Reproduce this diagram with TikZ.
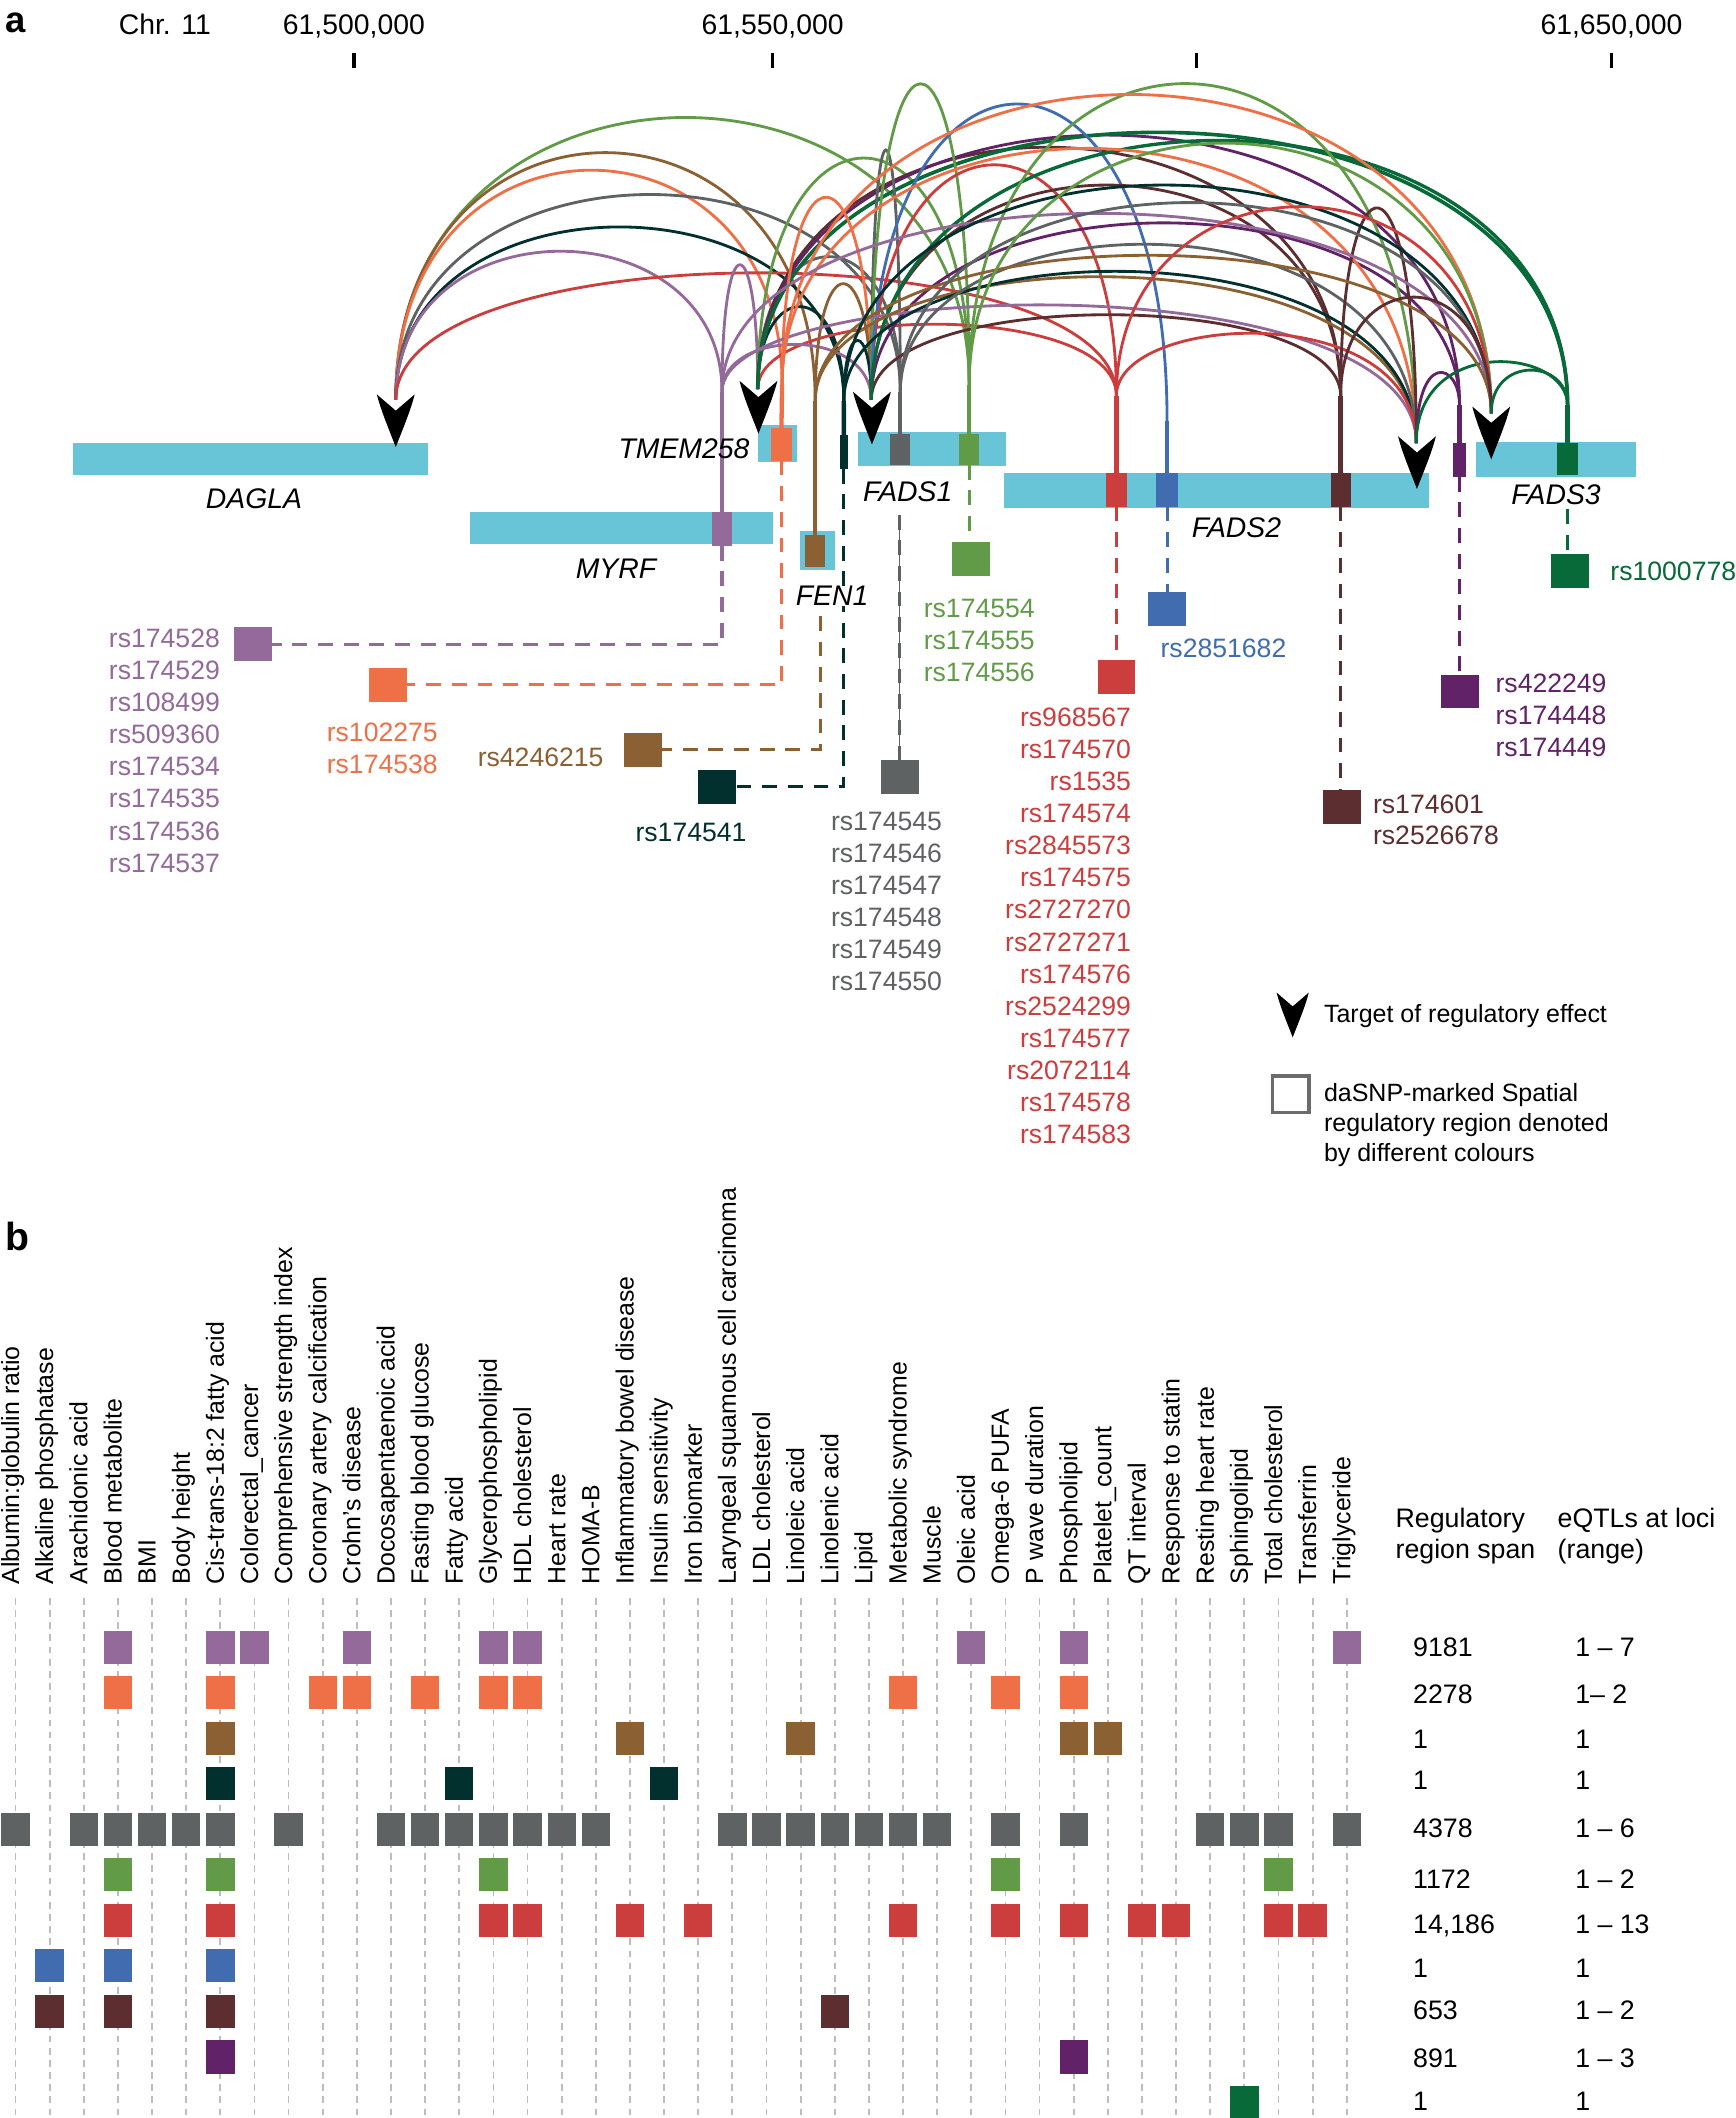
\documentclass[tikz,border=0pt]{standalone}
\usepackage{fontspec}
\setmainfont{Liberation Sans}
\usetikzlibrary{calc}
\definecolor{cgene}{HTML}{67C5D7}
\definecolor{cP}{HTML}{946A9A}
\definecolor{cO}{HTML}{EF7047}
\definecolor{cB}{HTML}{8B6133}
\definecolor{cT}{HTML}{02302F}
\definecolor{cG}{HTML}{5F6263}
\definecolor{cGr}{HTML}{629B48}
\definecolor{cR}{HTML}{CC3E3E}
\definecolor{cBl}{HTML}{416DB0}
\definecolor{cDB}{HTML}{5C2E30}
\definecolor{cDP}{HTML}{622268}
\definecolor{cDG}{HTML}{076A38}
\definecolor{ccol}{HTML}{BDBDBD}
\definecolor{cbox}{HTML}{6B6B6B}
\newcommand\boxnode[6]{\node[#2, minimum width={#5pt-#3pt}, minimum height={#6pt-#4pt}] (#1) at ({(#3+#5)/2},{(#4+#6)/2}) {};}
\newcommand\rarc[5][]{%
  \pgfmathsetmacro\kA{4/3*(\csname ys#3\endcsname-#5)}%
  \pgfmathsetmacro\kB{4/3*(\csname yt#4\endcsname-#5)}%
  \draw[arcline,#2,#1] (s#3) .. controls +(0,-\kA) and +(0,-\kB) .. (t#4);}
\newcommand\tarrow[2][1]{\fill[black, shift={(#2)}, scale=#1] (0,0) .. controls (-5,-13) and (-11,-27) .. (-14,-39) -- (0,-27) -- (14,-39) .. controls (11,-27) and (5,-13) .. (0,0) -- cycle;}
\newcommand\brow[4]{\foreach \c in {#3} \node[bsq, fill=#1] (b#4-\c) at ({11.5+\c*25.27}, #2) {};}
\def\ysP{290}\def\ysO{285}\def\ysB{297}\def\ysT{297}\def\ysG{290}\def\ysGr{285}
\def\ysR{293}\def\ysBl{312}\def\ysDB{293}\def\ysDP{300}\def\ysDG{300}
\def\ytDa{296}\def\ytTm{288}\def\ytFa{296}\def\ytFb{328}\def\ytFc{306}
\begin{document}
\begin{tikzpicture}[x=1pt,y=-1pt,
  gene/.style={fill=cgene, draw=none, inner sep=0, outer sep=0},
  mk/.style={draw=none, inner sep=0, outer sep=0},
  snp/.style={draw=none, inner sep=0, outer sep=0, minimum width=28pt, minimum height=25pt},
  bsq/.style={draw=none, inner sep=0, outer sep=0, minimum width=21pt, minimum height=24.5pt},
  arcline/.style={line width=2.1pt},
  stemln/.style={line width=3.2pt},
  dl/.style={line width=2.3pt, dash pattern=on 11pt off 8pt},
  tickln/.style={line width=2.4pt, black},
  cdash/.style={line width=1.3pt, ccol, dash pattern=on 5pt off 4pt},
  lab/.style={font=\fontsize{19.7}{23.8}\selectfont, inner sep=0},
  glab/.style={font=\fontsize{21}{24}\selectfont\itshape, inner sep=0},
  axl/.style={font=\fontsize{21}{24}\selectfont, inner sep=0, anchor=base},
  leg/.style={font=\fontsize{18.5}{22}\selectfont, inner sep=0, anchor=base west},
  clab/.style={font=\fontsize{18.4}{22}\selectfont, inner sep=0, rotate=90, anchor=mid west},
  tlab/.style={font=\fontsize{19.8}{23}\selectfont, inner sep=0, anchor=base west}]
\useasboundingbox (0,0) rectangle (1285,1568);
\fill[white] (0,0) rectangle (1285,1568);

% ---------- panel a ----------
\node[font=\fontsize{27}{30}\selectfont\bfseries, anchor=base west, inner sep=0] (pa) at (4,24) {a};
\node[axl] (chr) at (122,25.6) {Chr. 11};
\node[axl] (p1) at (262,25.6) {61,500,000};
\node[axl] (p2) at (572,25.6) {61,550,000};
\node[axl] (p4) at (1193,25.6) {61,650,000};
\foreach \x in {262,572,886,1193} \draw[tickln] (\x,39) -- (\x,50);

% genes
\boxnode{DAGLA}{gene}{54}{328}{317}{352}
\boxnode{MYRF}{gene}{348}{379}{572}{403}
\boxnode{TMEM}{gene}{561}{315}{590}{342}
\boxnode{FEN}{gene}{592}{393}{618}{422}
\boxnode{FADSa}{gene}{635}{320}{745}{345}
\boxnode{FADSb}{gene}{743}{350}{1058}{376}
\boxnode{FADSc}{gene}{1093}{327}{1211}{353}

% SNP squares
\node[snp, fill=cP] (sqP) at (187,477) {};
\node[snp, fill=cO] (sqO) at (287,507) {};
\node[snp, fill=cB] (sqB) at (476,555) {};
\node[snp, fill=cT] (sqT) at (530.6,582.5) {};
\node[snp, fill=cG] (sqG) at (666,575) {};
\node[snp, fill=cGr] (sqGr) at (719,414) {};
\node[snp, fill=cR] (sqR) at (826.5,501) {};
\node[snp, fill=cBl] (sqBl) at (864,450.6) {};
\node[snp, fill=cDB] (sqDB) at (993.5,597.6) {};
\node[snp, fill=cDP] (sqDP) at (1081,512) {};
\node[snp, fill=cDG] (sqDG) at (1162,422.6) {};

% markers
\boxnode{mP}{mk,fill=cP}{527}{379}{542}{404}
\boxnode{mO}{mk,fill=cO}{571}{317}{586}{341}
\boxnode{mB}{mk,fill=cB}{596}{396}{611}{420}
\boxnode{mT}{mk,fill=cT}{621.5}{322}{628}{347}
\boxnode{mG}{mk,fill=cG}{659}{321}{674}{344}
\boxnode{mGr}{mk,fill=cGr}{710}{321}{725}{344}
\boxnode{mR}{mk,fill=cR}{819}{350}{834}{375}
\boxnode{mBl}{mk,fill=cBl}{856}{350}{872}{375}
\boxnode{mDB}{mk,fill=cDB}{985}{350}{1000}{375}
\boxnode{mDP}{mk,fill=cDP}{1076}{328}{1085}{353}
\boxnode{mDG}{mk,fill=cDG}{1153}{328}{1168}{352}

% dashed connectors
\draw[dl, cP] (mP.south) |- (sqP.east);
\draw[dl, cO] (mO.south) |- (sqO.east);
\coordinate (cBtop) at (607.5,456);
\draw[dl, cB] (cBtop) |- (sqB.east);
\draw[dl, cT] (mT.south) |- (sqT.east);
\coordinate (cGtop) at (666,381);
\draw[line width=0.6pt, cG] (cGtop) -- (sqG.north);
\draw[dl, cG] (cGtop) -- (sqG.north);
\draw[dl, cGr] (mGr.south) -- (mGr.south |- sqGr.north);
\draw[dl, cR] (mR.south) -- (mR.south |- sqR.north);
\draw[dl, cBl] (mBl.south) -- (mBl.south |- sqBl.north);
\draw[dl, cDB] (mDB.south) -- (mDB.south |- sqDB.north);
\draw[dl, cDP] (mDP.south) -- (mDP.south |- sqDP.north);
\coordinate (cDGtop) at (1160.5,377);
\draw[dl, cDG] (cDGtop) -- (cDGtop |- sqDG.north);

% arc end points
\coordinate (sP) at (534.5,\ysP);
\coordinate (sO) at (579,\ysO);
\coordinate (sB) at (603.5,\ysB);
\coordinate (sT) at (624.7,\ysT);
\coordinate (sG) at (666.5,\ysG);
\coordinate (sGr) at (717.5,\ysGr);
\coordinate (sR) at (826.5,\ysR);
\coordinate (sBl) at (864,\ysBl);
\coordinate (sDB) at (992.5,\ysDB);
\coordinate (sDP) at (1080.5,\ysDP);
\coordinate (sDG) at (1160.5,\ysDG);
\coordinate (tDa) at (293,\ytDa);
\coordinate (tTm) at (561,\ytTm);
\coordinate (tFa) at (645,\ytFa);
\coordinate (tFb) at (1048.5,\ytFb);
\coordinate (tFc) at (1104,\ytFc);

% arcs to DAGLA
\rarc{cGr}{Gr}{Da}{87}
\rarc{cB}{B}{Da}{113}
\rarc{cO}{O}{Da}{126}
\rarc{cG}{G}{Da}{144}
\rarc{cT}{T}{Da}{168}
\rarc{cP}{P}{Da}{186}
\rarc{cR}{R}{Da}{202}
% arcs to TMEM258
\rarc{cP}{P}{Tm}{196}
\rarc{cGr}{Gr}{Tm}{117}
\rarc{cT}{T}{Tm}{227}
\rarc{cG}{G}{Tm}{190}
\rarc{cR}{R}{Tm}{240}
\rarc{cDB}{DB}{Tm}{109}
\rarc{cDP}{DP}{Tm}{100}
\rarc[line width=2.7pt]{cDG}{DG}{Tm}{98}
% arcs to FADS1
\rarc{cP}{P}{Fa}{255}
\rarc{cO}{O}{Fa}{146}
\rarc{cB}{B}{Fa}{210}
\rarc{cT}{T}{Fa}{252}
\rarc{cG}{G}{Fa}{111}
\rarc{cGr}{Gr}{Fa}{62}
\rarc{cR}{R}{Fa}{122}
\rarc{cBl}{Bl}{Fa}{77}
\rarc{cDB}{DB}{Fa}{137}
\rarc{cDB}{DB}{Fa}{233}
\rarc{cDP}{DP}{Fa}{165}
\rarc[line width=2.5pt]{cDG}{DG}{Fa}{104}
% arcs to FADS2
\rarc{cP}{P}{Fb}{226}
\rarc{cO}{O}{Fb}{110}
\rarc{cB}{B}{Fb}{205}
\rarc{cT}{T}{Fb}{201}
\rarc{cG}{G}{Fb}{181}
\rarc{cGr}{Gr}{Fb}{62}
\rarc{cR}{R}{Fb}{247}
\rarc{cDB}{DB}{Fb}{154}
\rarc{cDP}{DP}{Fb}{276}
\rarc{cDG}{DG}{Fb}{268}
% arcs to FADS3
\rarc{cP}{P}{Fc}{158}
\rarc{cO}{O}{Fc}{70}
\rarc{cB}{B}{Fc}{189}
\rarc{cT}{T}{Fc}{137}
\rarc{cG}{G}{Fc}{150}
\rarc{cGr}{Gr}{Fc}{106}
\rarc{cR}{R}{Fc}{153}
\rarc{cDB}{DB}{Fc}{220}
\rarc{cDG}{DG}{Fc}{274}

% stems
\draw[stemln, cP] (mP.north) -- (sP);
\draw[stemln, cO] (mO.north) -- (sO);
\draw[stemln, cB] (mB.north) -- (sB);
\draw[stemln, cT] (mT.north) -- (sT);
\draw[stemln, cG] (mG.north) -- (sG);
\draw[stemln, cGr] (mGr.north) -- (sGr);
\draw[stemln, cR] (mR.north) -- (sR);
\draw[stemln, cBl] (mBl.north) -- (sBl);
\draw[stemln, cDB] (mDB.north) -- (sDB);
\draw[stemln, cDP] (mDP.north) -- (sDP);
\draw[stemln, cDG] (mDG.north) -- (sDG);

% target arrows
\coordinate (aDa) at (293,331);
\coordinate (aTm) at (561.5,321);
\coordinate (aFa) at (645.5,329);
\coordinate (aFb) at (1049,362);
\coordinate (aFc) at (1104,340);
\tarrow{aDa}\tarrow{aTm}\tarrow{aFa}\tarrow{aFb}\tarrow{aFc}

% gene labels
\node[glab, anchor=base] (lDAGLA) at (188,376.3) {DAGLA};
\node[glab, anchor=base] (lMYRF) at (456,428.6) {MYRF};
\node[glab, anchor=base east] (lTMEM) at (555,339.6) {TMEM258};
\node[glab, anchor=base, fill=white] (lFEN) at (616,448.6) {FEN1};
\node[glab, anchor=base] (lFADSa) at (672,371.2) {FADS1};
\node[glab, anchor=base] (lFADSb) at (915.4,398.1) {FADS2};
\node[glab, anchor=base] (lFADSc) at (1152,373.6) {FADS3};

% SNP labels
\foreach \t [count=\i from 0] in {rs174528,rs174529,rs108499,rs509360,rs174534,rs174535,rs174536,rs174537}
  \node[lab, text=cP, anchor=base east] (lP\i) at (163,{479.1+\i*23.8}) {\t};
\node[lab, text=cO, anchor=base] (lO0) at (283,548.7) {rs102275};
\node[lab, text=cO, anchor=base] (lO1) at (283,572.8) {rs174538};
\node[lab, text=cB, anchor=base east] (lB0) at (447,567.1) {rs4246215};
\node[lab, text=cT, anchor=base] (lT0) at (511.6,622.8) {rs174541};
\foreach \t [count=\i from 0] in {rs174545,rs174546,rs174547,rs174548,rs174549,rs174550}
  \node[lab, text=cG, anchor=base west] (lG\i) at (615,{614.6+\i*23.8}) {\t};
\foreach \t [count=\i from 0] in {rs174554,rs174555,rs174556}
  \node[lab, text=cGr, anchor=base west] (lGr\i) at (683.7,{456.9+\i*23.8}) {\t};
\foreach \t [count=\i from 0] in {rs968567,rs174570,rs1535,rs174574,rs2845573,rs174575,rs2727270,rs2727271,rs174576,rs2524299,rs174577,rs2072114,rs174578,rs174583}
  \node[lab, text=cR, anchor=base east] (lR\i) at (837.5,{537.5+\i*23.8}) {\t};
\node[lab, text=cBl, anchor=base west] (lBl0) at (859,486.9) {rs2851682};
\node[lab, text=cDB, anchor=base west] (lDB0) at (1016.3,601.9) {rs174601};
\node[lab, text=cDB, anchor=base west] (lDB1) at (1016.3,625.4) {rs2526678};
\foreach \t [count=\i from 0] in {rs422249,rs174448,rs174449}
  \node[lab, text=cDP, anchor=base west] (lDP\i) at (1107,{512.6+\i*23.6}) {\t};
\node[lab, text=cDG, anchor=base west] (lDG0) at (1192,430.1) {rs1000778};

% legend
\coordinate (aLeg) at (957,768);
\tarrow[0.85]{aLeg}
\node[leg] (legA) at (980,756.7) {Target of regulatory effect};
\node[draw=cbox, line width=2.6pt, minimum size=27pt, inner sep=0] (legbox) at (955.5,810) {};
\node[leg] (legB1) at (980,815.7) {daSNP-marked Spatial};
\node[leg] (legB2) at (980,837.7) {regulatory region denoted};
\node[leg] (legB3) at (980,859.7) {by different colours};

% ---------- panel b ----------
\node[font=\fontsize{29}{32}\selectfont\bfseries, anchor=base west, inner sep=0] (pb) at (4,926) {b};
\foreach \c in {0,...,39} \draw[cdash] ({11.5+\c*25.27},1183) -- ({11.5+\c*25.27},1568);
\foreach \t [count=\i from 0] in {Albumin:globulin ratio,Alkaline phosphatase,Arachidonic acid,Blood metabolite,BMI,Body height,Cis-trans-18:2 fatty acid,Colorectal\_cancer,Comprehensive strength index,Coronary artery calcification,Crohn's disease,Docosapentaenoic acid,Fasting blood glucose,Fatty acid,Glycerophospholipid,HDL cholesterol,Heart rate,HOMA-B,Inflammatory bowel disease,Insulin sensitivity,Iron biomarker,Laryngeal squamous cell carcinoma,LDL cholesterol,Linoleic acid,Linolenic acid,Lipid,Metabolic syndrome,Muscle,Oleic acid,Omega-6 PUFA,P wave duration,Phospholipid,Platelet\_count,QT interval,Response to statin,Resting heart rate,Sphingolipid,Total cholesterol,Transferrin,Triglyceride}
  \node[clab] (c\i) at ({11.5+\i*25.27},1173) {\t};

\brow{cP}{1219.5}{3,6,7,10,14,15,28,31,39}{1}
\brow{cO}{1253.2}{3,6,9,10,12,14,15,26,29,31}{2}
\brow{cB}{1286.9}{6,18,23,31,32}{3}
\brow{cT}{1320.6}{6,13,19}{4}
\brow{cG}{1354.3}{0,2,3,4,5,6,8,11,12,13,14,15,16,17,21,22,23,24,25,26,27,29,31,35,36,37,39}{5}
\brow{cGr}{1388}{3,6,14,29,37}{6}
\brow{cR}{1421.7}{3,6,14,15,18,20,26,29,31,33,34,37,38}{7}
\brow{cBl}{1455.4}{1,3,6}{8}
\brow{cDB}{1489.1}{1,3,6,24}{9}
\brow{cDP}{1522.8}{6,31}{10}
\brow{cDG}{1556.5}{36}{11}

\node[tlab] (h1a) at (1033,1131.1) {Regulatory};
\node[tlab] (h1b) at (1033,1154.1) {region span};
\node[tlab] (h2a) at (1153,1131.1) {eQTLs at loci};
\node[tlab] (h2b) at (1153,1154.1) {(range)};
\foreach \v/\r/\y [count=\i] in {9181/1 – 7/1219.2, 2278/1– 2/1254.2, 1/1/1287.3, 1/1/1317.8, 4378/1 – 6/1353.4, 1172/1 – 2/1391, {14,186}/1 – 13/1424, 1/1/1456.8, 653/1 – 2/1487.6, 891/1 – 3/1523.2, 1/1/1555.5}
{
  \node[tlab] (v\i) at (1046,{\y+7.1}) {\v};
  \node[tlab] (r\i) at (1166,{\y+7.1}) {\r};
}
\end{tikzpicture}
\end{document}
